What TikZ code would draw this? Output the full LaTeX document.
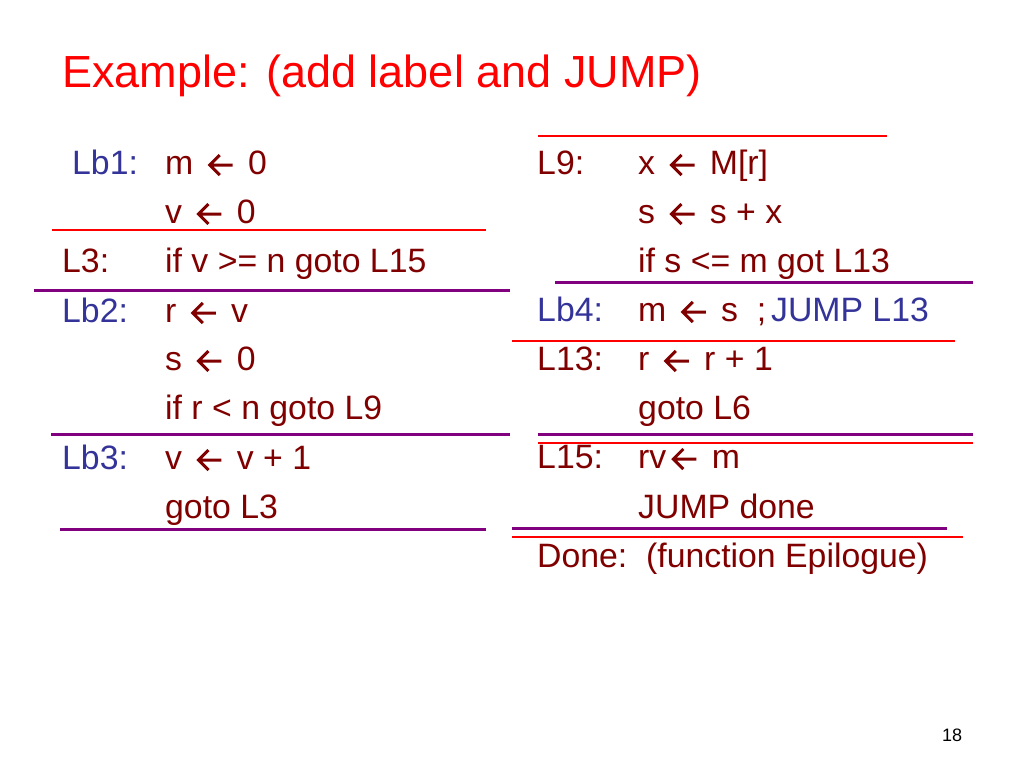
\documentclass[tikz,border=0pt]{standalone}
\usepackage{fontspec}
\setmainfont{Liberation Sans}
\usetikzlibrary{positioning}
\definecolor{codered}{RGB}{128,0,0}
\definecolor{lblblue}{RGB}{51,51,153}
\definecolor{rulepurple}{RGB}{128,0,128}
% the assignment arrow, drawn like the slide's open-headed arrow
\newcommand{\la}{\tikz[baseline=0pt,x=1pt,y=1pt]{\useasboundingbox (0,0) rectangle (36,20);
  \draw[codered,line width=3pt] (30,9) -- (7,9) (17,19) -- (7,9) -- (17,-1);}}
\tikzset{txt/.style={anchor=base west,inner sep=0pt,font=\fontsize{33.8}{40}\selectfont}}
\tikzset{code/.style={txt,text=codered},lbl/.style={txt,text=lblblue}}
\tikzset{prule/.style={rulepurple,line width=3pt},rrule/.style={red,line width=1.8pt}}

\begin{document}
\begin{tikzpicture}[x=1pt,y=-1pt]
\useasboundingbox (0,0) rectangle (1024,768);

\node[txt,text=red,font=\fontsize{45}{54}\selectfont] (title) at (62,87) {Example: (add label and JUMP)};

% left column
\node[lbl] (lb1) at (72,174) {Lb1:};
\node[code] (l3) at (62,272) {L3:};
\node[lbl] (lb2) at (62,322) {Lb2:};
\node[lbl] (lb3) at (62,469) {Lb3:};
\foreach \y/\t [count=\i] in {174/m \la{} 0, 223/v \la{} 0, 272/if v >= n goto L15, 322/r \la{} v,
  370/s \la{} 0, 419/if r < n goto L9, 469/v \la{} v + 1, 518/goto L3}
 {
 \node[code] (lc\i) at (165,\y) {\t};
 }

% right column
\node[code] (l9) at (537,174) {L9:};
\node[lbl] (lb4) at (537,321) {Lb4:};
\node[code] (l13) at (537,370) {L13:};
\node[code] (l15) at (537,468) {L15:};
\node[code] (done) at (537,567) {Done:\ \ (function Epilogue)};
\foreach \y/\t [count=\i] in {174/x \la{} M[r], 223/s \la{} s + x, 272/if s <= m got L13, 321/m \la{} s \ ;,
  370/r \la{} r + 1, 419/goto L6, 468/rv\la{} m, 518/JUMP done}
 {
 \node[code] (rc\i) at (638,\y) {\t};
 }
\node[lbl,right=0.45em of rc4.base east,anchor=base west] (jmp) {JUMP L13};

% block borders
\draw[rrule] (52,230) -- (486,230);
\draw[prule] (34,290) -- (510,290);
\draw[prule] (51,434) -- (510,434);
\draw[prule] (60,529) -- (486,529);
\draw[rrule] (538,136) -- (887,136);
\draw[prule] (555,282) -- (973,282);
\draw[rrule] (512,341) -- (955,341);
\draw[prule] (538,434) -- (973,434);
\draw[rrule] (538,443) -- (973,443);
\draw[prule] (512,528) -- (947,528);
\draw[rrule] (512,537) -- (963,537);

\node[txt,font=\fontsize{18}{22}\selectfont] (page) at (942,741) {18};

\end{tikzpicture}
\end{document}
